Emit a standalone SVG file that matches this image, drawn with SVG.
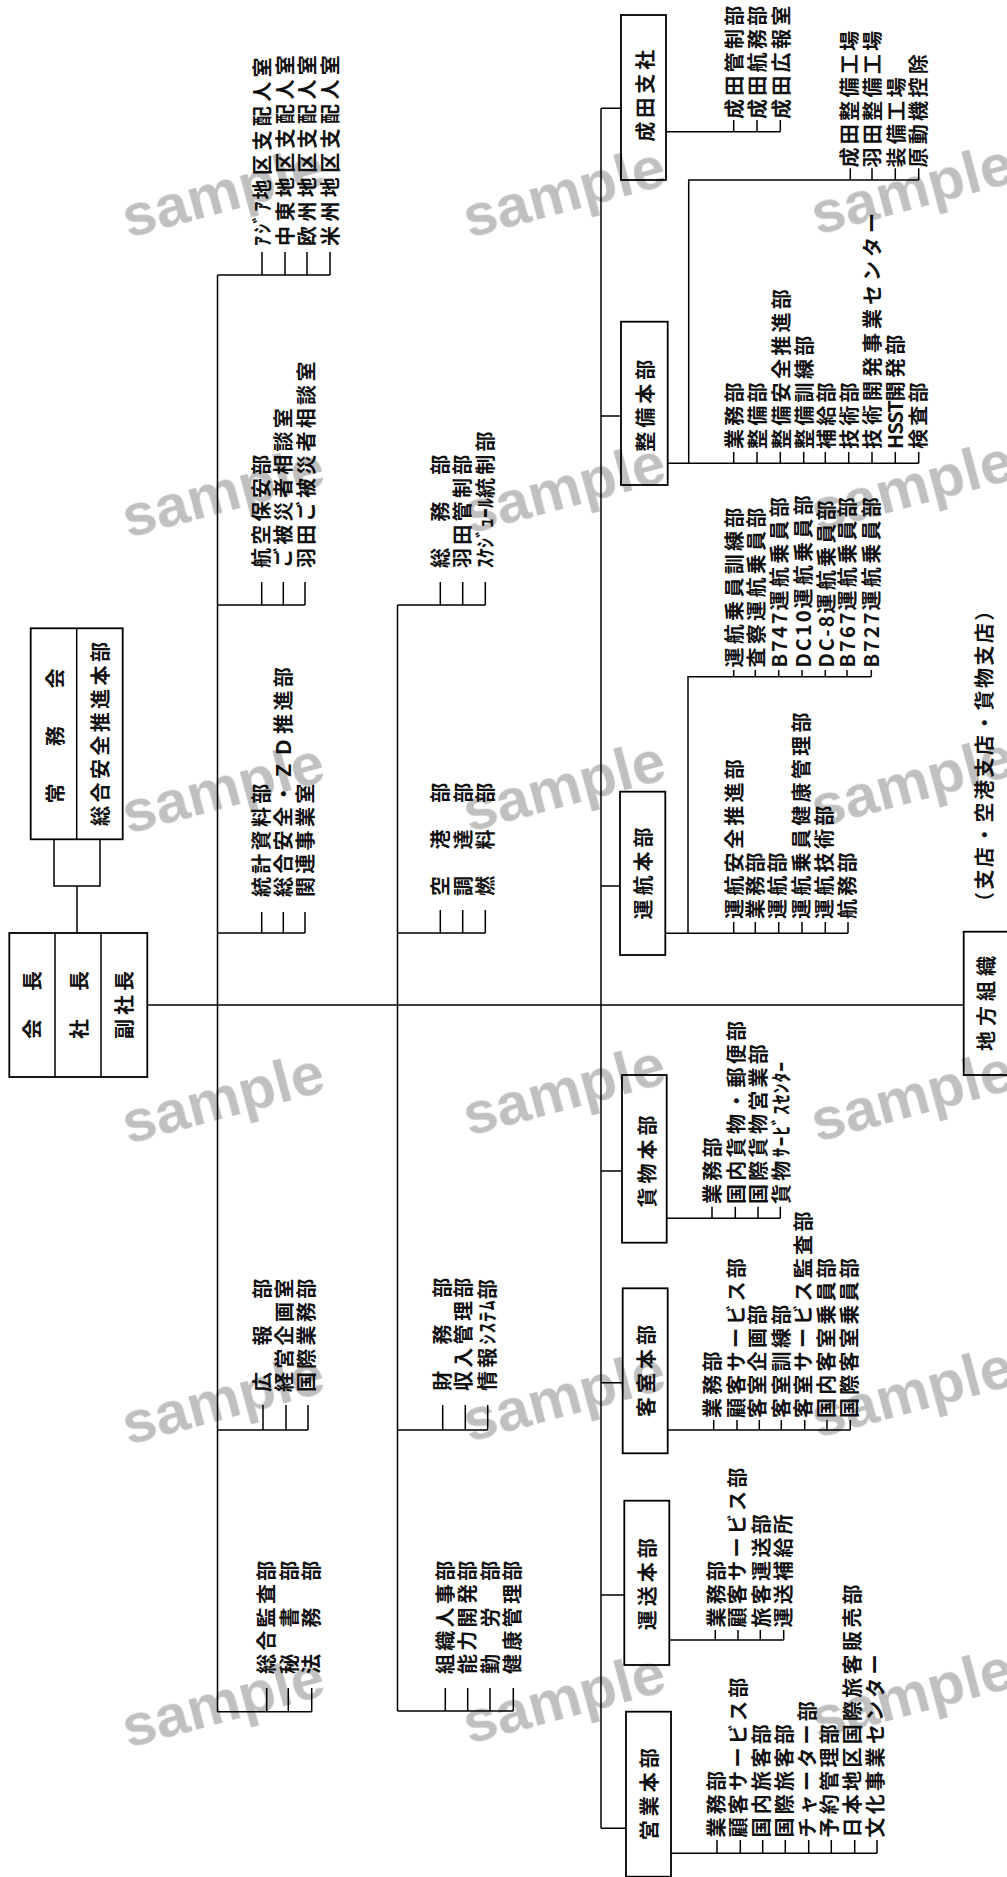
<svg xmlns="http://www.w3.org/2000/svg" width="1007" height="1877" viewBox="0 0 1007 1877">
<style>
.ln{stroke:#000;stroke-width:1.5;fill:none}
.bx{stroke:#000;stroke-width:1.8;fill:#fff}
.t{font-family:"Noto Sans CJK JP","Noto Sans CJK SC",sans-serif;font-size:20px;font-weight:bold;letter-spacing:3.3px;fill:#111}
.b{letter-spacing:4px}
.wm{font-family:"Liberation Sans",Arial,sans-serif;font-weight:bold;font-size:60px;fill:#c0c0c0;mix-blend-mode:multiply}
</style>
<rect width="1007" height="1877" fill="#fff"/>
<g id="connectors" class="ln">
<path d="M54 839.3V886H100V839.3M77 886V933"/>
<path d="M147.3 1005H963.7"/>
<path d="M217.5 275V1711.7"/>
<path d="M217.5 275H330M262 275V252M285 275V252M307 275V252M330 275V252"/>
<path d="M217.5 605H305M261.7 605V582M283.3 605V582M305 605V582"/>
<path d="M217.5 933H305M261.7 933V912M283.3 933V912M305 933V912"/>
<path d="M217.5 1430H308M263 1430V1405M286 1430V1405M308 1430V1405"/>
<path d="M217.5 1711.7H311.7M266.7 1711.7V1688M288.3 1711.7V1688M311.7 1711.7V1688"/>
<path d="M397.5 605V1711"/>
<path d="M397.5 605H485.3M440.3 605V582M462.7 605V582M485.3 605V582"/>
<path d="M397.5 933H485.3M440.3 933V910M462.7 933V910M485.3 933V910"/>
<path d="M397.5 1430H487.7M442.7 1430V1405M465.3 1430V1405M487.7 1430V1405"/>
<path d="M397.5 1711H513.3M445.3 1711V1688M467.7 1711V1688M490 1711V1688M513.3 1711V1688"/>
<path d="M601 108.3V1828.3"/>
<path d="M601 108.3H621M601 416H621M601 886H620M601 1171H622M601 1382.7H622.7M601 1595H624.3M601 1828.3H626"/>
<path d="M666 131.7H780.3M733.7 131.7V120M757 131.7V120M780.3 131.7V120"/>
<path d="M667.7 463.3H918.7M733.7 463.3V452M757 463.3V452M780.3 463.3V452M803.7 463.3V452M825.3 463.3V452M848.7 463.3V452M872 463.3V452M895.3 463.3V452M918.7 463.3V452"/>
<path d="M688.7 463.3V180H918.7M850.3 180V168.3M872 180V168.3M895.3 180V168.3M918.7 180V168.3"/>
<path d="M665.3 933.3H848M733.7 933.3V922M755.3 933.3V922M778.7 933.3V922M802 933.3V922M825.3 933.3V922M848 933.3V922"/>
<path d="M688 933.3V676.7H871.3M733.7 676.7V670M755.3 676.7V670M778.7 676.7V670M802 676.7V670M825.3 676.7V670M847 676.7V670M871.3 676.7V670"/>
<path d="M666.7 1218.3H780.3M712 1218.3V1206.7M735.3 1218.3V1206.7M758 1218.3V1206.7M780.3 1218.3V1206.7"/>
<path d="M667.7 1430H850.3M713.7 1430V1420M737 1430V1420M759.3 1430V1420M781.3 1430V1420M804.7 1430V1420M827 1430V1420M850.3 1430V1420"/>
<path d="M669.3 1640H783.7M715.3 1640V1630M738 1640V1630M760.3 1640V1630M783.7 1640V1630"/>
<path d="M671 1853.3H877M717 1853.3V1840M740.3 1853.3V1840M762.7 1853.3V1840M785.3 1853.3V1840M808.7 1853.3V1840M831.3 1853.3V1840M854.7 1853.3V1840M877 1853.3V1840"/>
</g>
<g id="jomukai">
<rect class="bx" x="30.7" y="628.3" width="92" height="211"/>
<path class="ln" d="M76.7 628.3V839.3"/>
<text class="t" style="letter-spacing:37.5px" text-anchor="middle" transform="translate(63.4 717.3) rotate(-90)">常務会</text>
<text class="t" style="letter-spacing:3.4px" text-anchor="middle" transform="translate(108.4 732.3) rotate(-90)">総合安全推進本部</text>
</g>
<g id="top">
<rect class="bx" x="9.3" y="933" width="138" height="144"/>
<path class="ln" d="M55 933V1077M101 933V1077"/>
<text class="t b" text-anchor="middle" transform="translate(40.1 1003) rotate(-90)">会　長</text>
<text class="t b" text-anchor="middle" transform="translate(86.8 1003) rotate(-90)">社　長</text>
<text class="t b" text-anchor="middle" transform="translate(131.8 1003) rotate(-90)">副社長</text>
</g>
<g id="g-overseas">
<text class="t" style="letter-spacing:4.4px" transform="translate(270.1 246) rotate(-90)"><tspan style="letter-spacing:2.2px">ｱｼﾞｱ</tspan>地区支配人室</text>
<text class="t" style="letter-spacing:4.4px" transform="translate(292.6 246) rotate(-90)">中東地区支配人室</text>
<text class="t" style="letter-spacing:4.4px" transform="translate(315.1 246) rotate(-90)">欧州地区支配人室</text>
<text class="t" style="letter-spacing:4.4px" transform="translate(337.6 246) rotate(-90)">米州地区支配人室</text>
</g>
<g id="g-safety">
<text class="t" transform="translate(268.6 568) rotate(-90)">航空保安部</text>
<text class="t" transform="translate(290.6 568) rotate(-90)">ご被災者相談室</text>
<text class="t" transform="translate(313.6 568) rotate(-90)">羽田ご被災者相談室</text>
</g>
<g id="g-stats">
<text class="t" transform="translate(268.6 897) rotate(-90)">統計資料部</text>
<text class="t" transform="translate(290.6 897) rotate(-90)">総合安全・ＺＤ推進部</text>
<text class="t" transform="translate(312.6 897) rotate(-90)">関連事業室</text>
</g>
<g id="g-pr">
<text class="t" transform="translate(270.1 1392) rotate(-90)">広　報　部</text>
<text class="t" transform="translate(291.6 1392) rotate(-90)">経営企画室</text>
<text class="t" transform="translate(314.1 1392) rotate(-90)">国際業務部</text>
</g>
<g id="g-audit">
<text class="t" transform="translate(273.6 1674) rotate(-90)">総合監査部</text>
<text class="t" transform="translate(296.6 1674) rotate(-90)">秘　書　部</text>
<text class="t" transform="translate(318.6 1674) rotate(-90)">法　務　部</text>
</g>
<g id="g-general">
<text class="t" transform="translate(447.6 568) rotate(-90)">総　務　部</text>
<text class="t" transform="translate(469.6 568) rotate(-90)">羽田管制部</text>
<text class="t" transform="translate(492.6 568) rotate(-90)"><tspan style="letter-spacing:0px">ｽｹｼﾞｭｰﾙ</tspan>統制部</text>
</g>
<g id="g-airport">
<text class="t" transform="translate(448.1 896) rotate(-90)">空　港　部</text>
<text class="t" transform="translate(470.6 896) rotate(-90)">調　達　部</text>
<text class="t" transform="translate(492.6 896) rotate(-90)">燃　料　部</text>
</g>
<g id="g-finance">
<text class="t" transform="translate(449.6 1391) rotate(-90)">財　務　部</text>
<text class="t" transform="translate(471.1 1391) rotate(-90)">収入管理部</text>
<text class="t" transform="translate(494.6 1391) rotate(-90)">情報<tspan style="letter-spacing:1.3px">ｼｽﾃﾑ</tspan>部</text>
</g>
<g id="g-personnel">
<text class="t" transform="translate(452.6 1674) rotate(-90)">組織人事部</text>
<text class="t" transform="translate(474.6 1674) rotate(-90)">能力開発部</text>
<text class="t" transform="translate(497.6 1674) rotate(-90)">勤　労　部</text>
<text class="t" transform="translate(520.3 1674) rotate(-90)">健康管理部</text>
</g>
<g id="narita">
<rect class="bx" x="621" y="15" width="45" height="165"/>
<text class="t b" text-anchor="middle" transform="translate(652.6 93.8) rotate(-90)">成田支社</text>
<text class="t" transform="translate(741.9 119) rotate(-90)">成田管制部</text>
<text class="t" transform="translate(765.4 119) rotate(-90)">成田航務部</text>
<text class="t" transform="translate(788.6 119) rotate(-90)">成田広報室</text>
</g>
<g id="seibi">
<rect class="bx" x="621" y="321.7" width="46.7" height="163.3"/>
<text class="t b" text-anchor="middle" transform="translate(652.6 403.8) rotate(-90)">整備本部</text>
<text class="t" transform="translate(856.9 167.5) rotate(-90)">成田整備工場</text>
<text class="t" transform="translate(880.4 167.5) rotate(-90)">羽田整備工場</text>
<text class="t" transform="translate(903.8 167.5) rotate(-90)">装備工場</text>
<text class="t" transform="translate(926.3 167.5) rotate(-90)">原動機控除</text>
<text class="t" transform="translate(741.9 449) rotate(-90)">業務部</text>
<text class="t" transform="translate(765.4 449) rotate(-90)">整備部</text>
<text class="t" transform="translate(788.6 449) rotate(-90)">整備安全推進部</text>
<text class="t" transform="translate(812.4 449) rotate(-90)">整備訓練部</text>
<text class="t" transform="translate(833.6 449) rotate(-90)">補給部</text>
<text class="t" transform="translate(856.9 449) rotate(-90)">技術部</text>
<text class="t" style="letter-spacing:4px" transform="translate(880.4 449) rotate(-90)">技術開発事業センター</text>
<text class="t" transform="translate(902.6 449) rotate(-90)"><tspan style="letter-spacing:-1px">HSST</tspan>開発部</text>
<text class="t" transform="translate(926.3 449) rotate(-90)">検査部</text>
</g>
<g id="unko">
<rect class="bx" x="620" y="791.7" width="45.3" height="163.3"/>
<text class="t b" text-anchor="middle" transform="translate(650.9 871.5) rotate(-90)">運航本部</text>
<text class="t" transform="translate(741.9 667.5) rotate(-90)">運航乗員訓練部</text>
<text class="t" transform="translate(763.6 667.5) rotate(-90)">査察運航乗員部</text>
<text class="t" transform="translate(786.9 667.5) rotate(-90)"><tspan style="letter-spacing:2px">B747</tspan>運航乗員部</text>
<text class="t" transform="translate(810.6 667.5) rotate(-90)"><tspan style="letter-spacing:2px">DC10</tspan>運航乗員部</text>
<text class="t" transform="translate(833.6 667.5) rotate(-90)"><tspan style="letter-spacing:2px">DC-8</tspan>運航乗員部</text>
<text class="t" transform="translate(855.4 667.5) rotate(-90)"><tspan style="letter-spacing:2px">B767</tspan>運航乗員部</text>
<text class="t" transform="translate(878.6 667.5) rotate(-90)"><tspan style="letter-spacing:2px">B727</tspan>運航乗員部</text>
<text class="t" transform="translate(741.9 919) rotate(-90)">運航安全推進部</text>
<text class="t" transform="translate(762.6 919) rotate(-90)">業務部</text>
<text class="t" transform="translate(785.4 919) rotate(-90)">運航部</text>
<text class="t" transform="translate(808.6 919) rotate(-90)">運航乗員健康管理部</text>
<text class="t" transform="translate(831.9 919) rotate(-90)">運航技術部</text>
<text class="t" transform="translate(855.4 919) rotate(-90)">航務部</text>
</g>
<g id="chiho">
<rect class="bx" x="963.7" y="931.7" width="60" height="143.3"/>
<text class="t b" style="letter-spacing:5px" text-anchor="middle" transform="translate(993.6 1001) rotate(-90)">地方組織</text>
<text class="t" style="letter-spacing:2.4px" transform="translate(991.9 912) rotate(-90)">（支店・空港支店・貨物支店）</text>
</g>
<g id="kamotsu">
<rect class="bx" x="622" y="1075" width="44.7" height="167.7"/>
<text class="t b" text-anchor="middle" transform="translate(655.1 1159.5) rotate(-90)">貨物本部</text>
<text class="t" transform="translate(720.4 1204) rotate(-90)">業務部</text>
<text class="t" transform="translate(743.8 1204) rotate(-90)">国内貨物・郵便部</text>
<text class="t" transform="translate(766.3 1204) rotate(-90)">国際貨物営業部</text>
<text class="t" transform="translate(788.8 1204) rotate(-90)">貨物<tspan style="letter-spacing:0.8px">ｻｰﾋﾞｽｾﾝﾀｰ</tspan></text>
</g>
<g id="kyakushitsu">
<rect class="bx" x="622.7" y="1288.3" width="45" height="165"/>
<text class="t b" text-anchor="middle" transform="translate(654.4 1369) rotate(-90)">客室本部</text>
<text class="t" transform="translate(720.4 1418) rotate(-90)">業務部</text>
<text class="t" transform="translate(743.8 1418) rotate(-90)">顧客サービス部</text>
<text class="t" transform="translate(765.4 1418) rotate(-90)">客室企画部</text>
<text class="t" transform="translate(788.8 1418) rotate(-90)">客室訓練部</text>
<text class="t" transform="translate(811.3 1418) rotate(-90)">客室サービス監査部</text>
<text class="t" transform="translate(833.8 1418) rotate(-90)">国内客室乗員部</text>
<text class="t" transform="translate(857.1 1418) rotate(-90)">国際客室乗員部</text>
</g>
<g id="unso">
<rect class="bx" x="624.3" y="1500.7" width="45" height="164.3"/>
<text class="t b" text-anchor="middle" transform="translate(654.6 1582.2) rotate(-90)">運送本部</text>
<text class="t" transform="translate(723.8 1627.5) rotate(-90)">業務部</text>
<text class="t" transform="translate(745.4 1627.5) rotate(-90)">顧客サービス部</text>
<text class="t" transform="translate(768.8 1627.5) rotate(-90)">旅客運送部</text>
<text class="t" transform="translate(791.3 1627.5) rotate(-90)">運送補給所</text>
</g>
<g id="eigyo">
<rect class="bx" x="626" y="1711.7" width="45" height="165"/>
<text class="t b" text-anchor="middle" transform="translate(656.9 1792.2) rotate(-90)">営業本部</text>
<text class="t" transform="translate(723.8 1837.5) rotate(-90)">業務部</text>
<text class="t" transform="translate(746.3 1837.5) rotate(-90)">顧客サービス部</text>
<text class="t" transform="translate(768.8 1837.5) rotate(-90)">国内旅客部</text>
<text class="t" transform="translate(792.1 1837.5) rotate(-90)">国際旅客部</text>
<text class="t" transform="translate(815.4 1837.5) rotate(-90)">チャーター部</text>
<text class="t" transform="translate(837.1 1837.5) rotate(-90)">予約管理部</text>
<text class="t" transform="translate(860.4 1837.5) rotate(-90)">日本地区国際旅客販売部</text>
<text class="t" transform="translate(882.9 1837.5) rotate(-90)">文化事業センター</text>
</g>
<g id="watermarks" class="wm">
<text transform="translate(128 238) rotate(-15)">sample</text>
<text transform="translate(469 238) rotate(-15)">sample</text>
<text transform="translate(817 235) rotate(-15)">sample</text>
<text transform="translate(128 538) rotate(-15)">sample</text>
<text transform="translate(469 534) rotate(-15)">sample</text>
<text transform="translate(817 532) rotate(-15)">sample</text>
<text transform="translate(128 834) rotate(-15)">sample</text>
<text transform="translate(469 832) rotate(-15)">sample</text>
<text transform="translate(817 828) rotate(-15)">sample</text>
<text transform="translate(128 1144) rotate(-15)">sample</text>
<text transform="translate(469 1136) rotate(-15)">sample</text>
<text transform="translate(817 1142) rotate(-15)">sample</text>
<text transform="translate(128 1445) rotate(-15)">sample</text>
<text transform="translate(469 1442) rotate(-15)">sample</text>
<text transform="translate(817 1438) rotate(-15)">sample</text>
<text transform="translate(128 1748) rotate(-15)">sample</text>
<text transform="translate(469 1744) rotate(-15)">sample</text>
<text transform="translate(817 1740) rotate(-15)">sample</text>
</g>
</svg>
